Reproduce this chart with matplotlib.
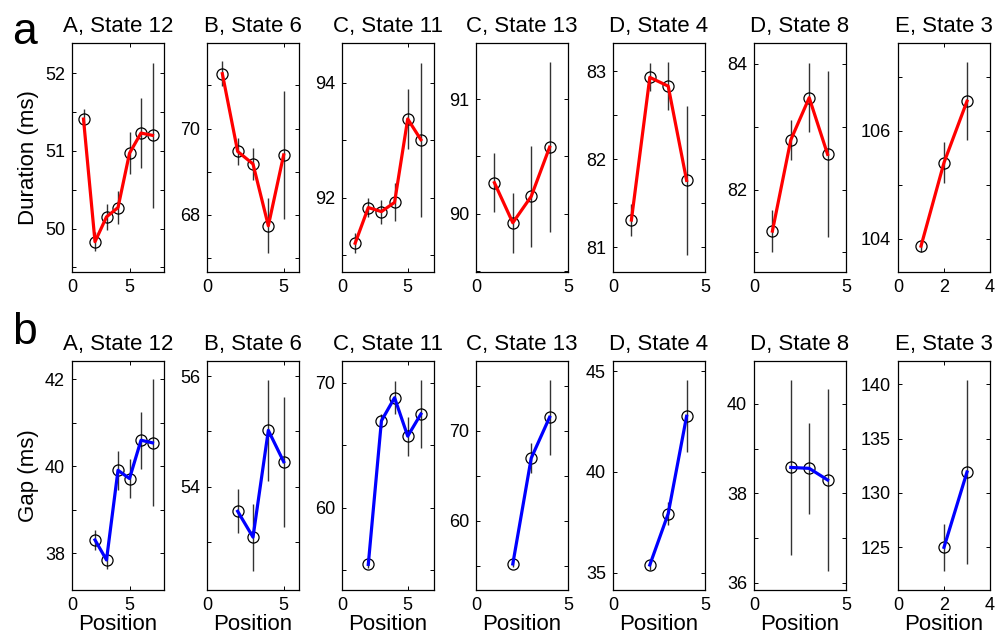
import numpy as np
import matplotlib
matplotlib.use('Agg')
import matplotlib.pyplot as plt

plt.rcParams['font.family'] = ['Liberation Sans', 'DejaVu Sans']

titles = ['A, State 12', 'B, State 6', 'C, State 11', 'C, State 13',
          'D, State 4', 'D, State 8', 'E, State 3']

# duration (top row): means and error half-widths per state, position starts at 1
dur_mean = [
    [51.41, 49.83, 50.15, 50.27, 50.97, 51.23, 51.20],
    [71.27, 69.47, 69.18, 67.75, 69.39],
    [91.21, 91.83, 91.76, 91.92, 93.37, 93.01],
    [90.27, 89.92, 90.15, 90.58],
    [81.31, 82.93, 82.83, 81.76],
    [81.34, 82.79, 83.46, 82.56],
    [103.86, 105.41, 106.55],
]
dur_err = [
    [0.13, 0.12, 0.17, 0.21, 0.27, 0.45, 0.93],
    [0.29, 0.32, 0.38, 0.64, 1.48],
    [0.17, 0.17, 0.21, 0.33, 0.52, 1.34],
    [0.26, 0.26, 0.44, 0.74],
    [0.18, 0.16, 0.27, 0.85],
    [0.34, 0.32, 0.55, 1.32],
    [0.10, 0.38, 0.72],
]

# gap (bottom row): position starts at 2
gap_mean = [
    [38.31, 37.85, 39.91, 39.72, 40.60, 40.54],
    [53.55, 53.08, 55.02, 54.45],
    [55.45, 66.95, 68.80, 65.72, 67.49],
    [55.19, 66.96, 71.52],
    [35.38, 37.93, 42.76],
    [38.58, 38.56, 38.30],
    [125.0, 131.93],
]
gap_err = [
    [0.23, 0.20, 0.45, 0.45, 0.66, 1.46],
    [0.40, 0.61, 0.92, 1.18],
    [0.30, 0.55, 1.30, 1.55, 2.75],
    [0.30, 1.70, 4.17],
    [0.27, 0.56, 1.78],
    [1.96, 1.02, 2.03],
    [2.18, 8.50],
]

# axis settings
xmax = [8, 6, 7, 5, 5, 5, 4]
xticks = [[0, 5], [0, 5], [0, 5], [0, 5], [0, 5], [0, 5], [0, 2, 4]]

dur_ylim = [(49.44, 52.39), (66.68, 71.98), (90.71, 94.69), (89.49, 91.49),
            (80.72, 83.32), (80.69, 84.33), (103.38, 107.63)]
dur_ticks = [(49.5, 0.5, 1), (67, 1, 2), (91, 1, 2), (89.5, 0.5, 1),
             (81, 0.5, 1), (81, 1, 2), (104, 1, 2)]

gap_ylim = [(37.16, 42.42), (52.12, 56.28), (53.4, 71.74), (52.29, 77.78),
            (34.14, 45.5), (35.84, 40.96), (121.07, 142.15)]
gap_ticks = [(38, 1, 2), (53, 1, 2), (55, 5, 10), (55, 5, 10),
             (35, 5, 5), (36, 1, 2), (125, 5, 5)]

lefts = [72, 207, 342, 476, 613, 754, 898]
W, H = 997, 642

fig = plt.figure(figsize=(W / 100, H / 100), dpi=100)


def style_axis(ax, ylim, tk, xm, xt):
    start, step, lab = tk
    ticks = np.arange(start, ylim[1] + 1e-9, step)
    labels = []
    for t in ticks:
        if abs(t / lab - round(t / lab)) < 1e-6:
            labels.append('%g' % t)
        else:
            labels.append('')
    ax.set_yticks(ticks)
    ax.set_yticklabels(labels)
    ax.set_ylim(ylim)
    ax.set_xlim(0, xm)
    ax.set_xticks(xt)
    ax.tick_params(direction='in', top=True, right=True, length=3,
                   width=0.7, labelsize=13, pad=5)
    for s in ax.spines.values():
        s.set_linewidth(0.9)


for row in range(2):
    for i in range(7):
        if row == 0:
            top, bot = 43, 272
            m, e, x0, col = dur_mean[i], dur_err[i], 1, 'red'
            ylim, tk = dur_ylim[i], dur_ticks[i]
        else:
            top, bot = 361, 590
            m, e, x0, col = gap_mean[i], gap_err[i], 2, 'blue'
            ylim, tk = gap_ylim[i], gap_ticks[i]
        ax = fig.add_axes([lefts[i] / W, (H - bot) / H, 92 / W, (bot - top) / H])
        x = np.arange(x0, x0 + len(m))
        ax.errorbar(x, m, yerr=e, fmt='none', ecolor='0.2', elinewidth=1, capsize=0)
        ax.plot(x, m, 'o', mfc='none', mec='black', ms=8, mew=0.9)
        ax.plot(x, m, '-', color=col, lw=2.3)
        style_axis(ax, ylim, tk, xmax[i], xticks[i])
        ax.set_title(titles[i], fontsize=16, pad=8)
        if i == 0:
            ax.set_ylabel('Duration (ms)' if row == 0 else 'Gap (ms)', fontsize=16)
        if row == 1:
            ax.set_xlabel('Position', fontsize=16, labelpad=0)

fig.text(12 / W, 1 - 44 / H, 'a', fontsize=32)
fig.text(12 / W, 1 - 344 / H, 'b', fontsize=32)

fig.savefig('out.png', dpi=100)
